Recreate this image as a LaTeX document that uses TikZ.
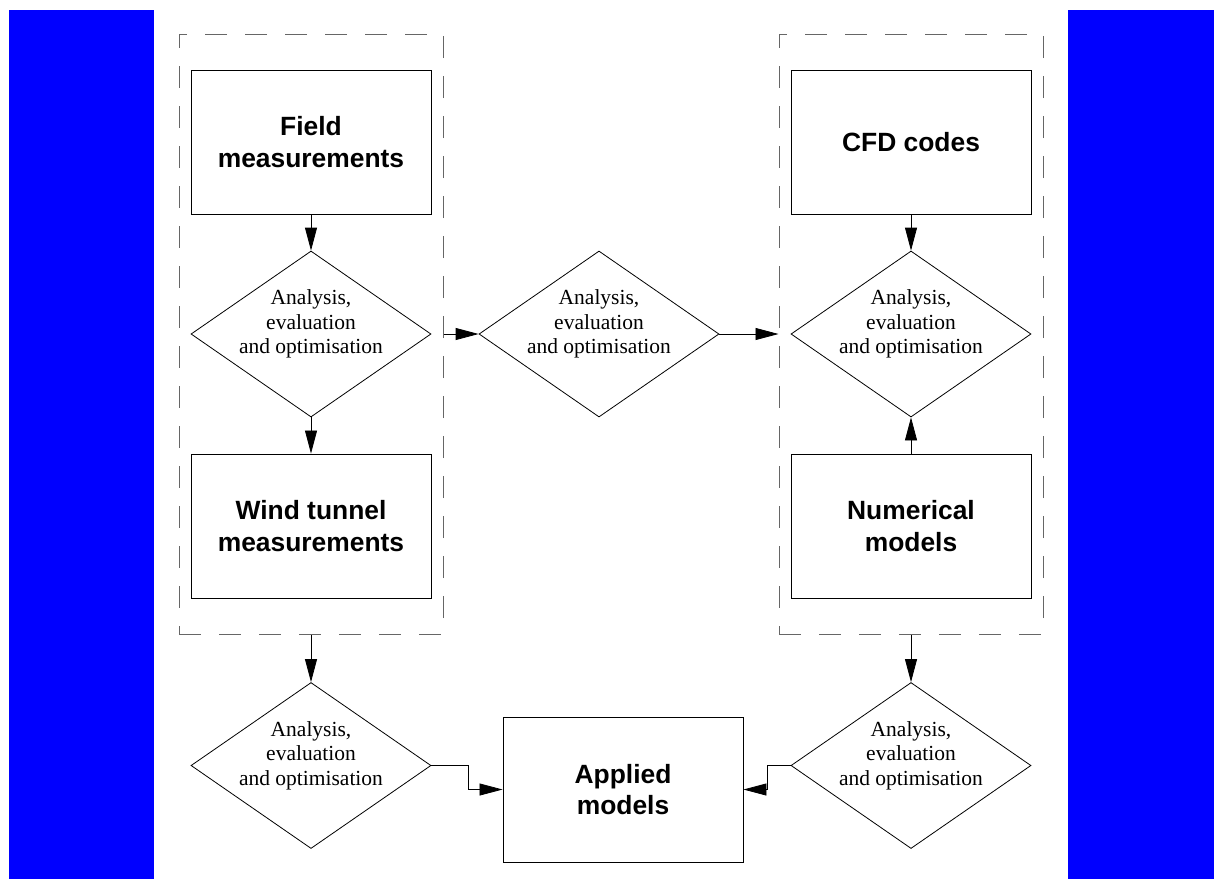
\documentclass[tikz,border=0pt]{standalone}
\usepackage{fontspec}
\setmainfont{Liberation Serif}
\newfontfamily\boxfont{Liberation Sans}
\usetikzlibrary{shapes.geometric,arrows.meta}
\definecolor{barblue}{RGB}{0,0,255}
\begin{document}
\begin{tikzpicture}[x=1pt,y=-1pt,
 box/.style={draw=black, line width=0.9pt, minimum width=240pt, minimum height=144pt, inner sep=0pt, align=center, font=\boxfont\bfseries\fontsize{26.4}{31.7}\selectfont},
 dia/.style={draw=black, line width=0.8pt, diamond, minimum width=240pt, minimum height=166pt, inner sep=0pt},
 dtext/.style={align=center, font=\fontsize{21.5}{24.5}\selectfont, inner sep=0pt},
 group/.style={draw=black!60, line width=1pt, dash pattern=on 22pt off 18pt, minimum width=264pt, minimum height=600pt, inner sep=0pt},
 arr/.style={draw=black, line width=0.8pt, -{Triangle[length=23pt,width=12pt]}},
 bar/.style={fill=barblue, draw=none},
]
\useasboundingbox (0,0) rectangle (1214,879);
\fill[bar] (9,10) rectangle (154,879);
\fill[bar] (1068,10) rectangle (1214,879);

% groups
\node[group] (lgroup) at (311,334) {};
\node[group] (rgroup) at (911,334) {};

% boxes
\node[box] (fm) at (311,142) {Field\\measurements};
\node[box] (wt) at (311,526) {Wind tunnel\\measurements};
\node[box] (cfd) at (911,142) {CFD codes};
\node[box] (num) at (911,526) {Numerical\\models};
\node[box, minimum height=145pt] (app) at (623,789.5) {Applied\\models};

% diamonds
\node[dia] (d1) at (311,334) {};
\node[dia] (d2) at (599,334) {};
\node[dia] (d3) at (911,334) {};
\node[dia] (d4) at (311,765.5) {};
\node[dia] (d5) at (911,765.5) {};

\node[dtext] (t1) at (311,324) {Analysis,\\evaluation\\and optimisation};
\node[dtext] (t2) at (599,324) {Analysis,\\evaluation\\and optimisation};
\node[dtext] (t3) at (911,324) {Analysis,\\evaluation\\and optimisation};
\node[dtext] (t4) at (311,755.5) {Analysis,\\evaluation\\and optimisation};
\node[dtext] (t5) at (911,755.5) {Analysis,\\evaluation\\and optimisation};

% connectors
\draw[arr] (fm.south) -- (d1.north);
\draw[arr] (d1.south) -- (wt.north);
\draw[arr] (cfd.south) -- (d3.north);
\draw[arr] (num.north) -- (d3.south);
\draw[arr] (lgroup.east) -- (d2.west);
\draw[arr] (d2.east) -- (rgroup.west);
\draw[arr] (lgroup.south) -- (d4.north);
\draw[arr] (rgroup.south) -- (d5.north);
\draw[arr] (d4.east) -- ++(37,0) |- (app.west);
\draw[arr] (d5.west) -- ++(-23,0) |- (app.east);
\end{tikzpicture}
\end{document}
